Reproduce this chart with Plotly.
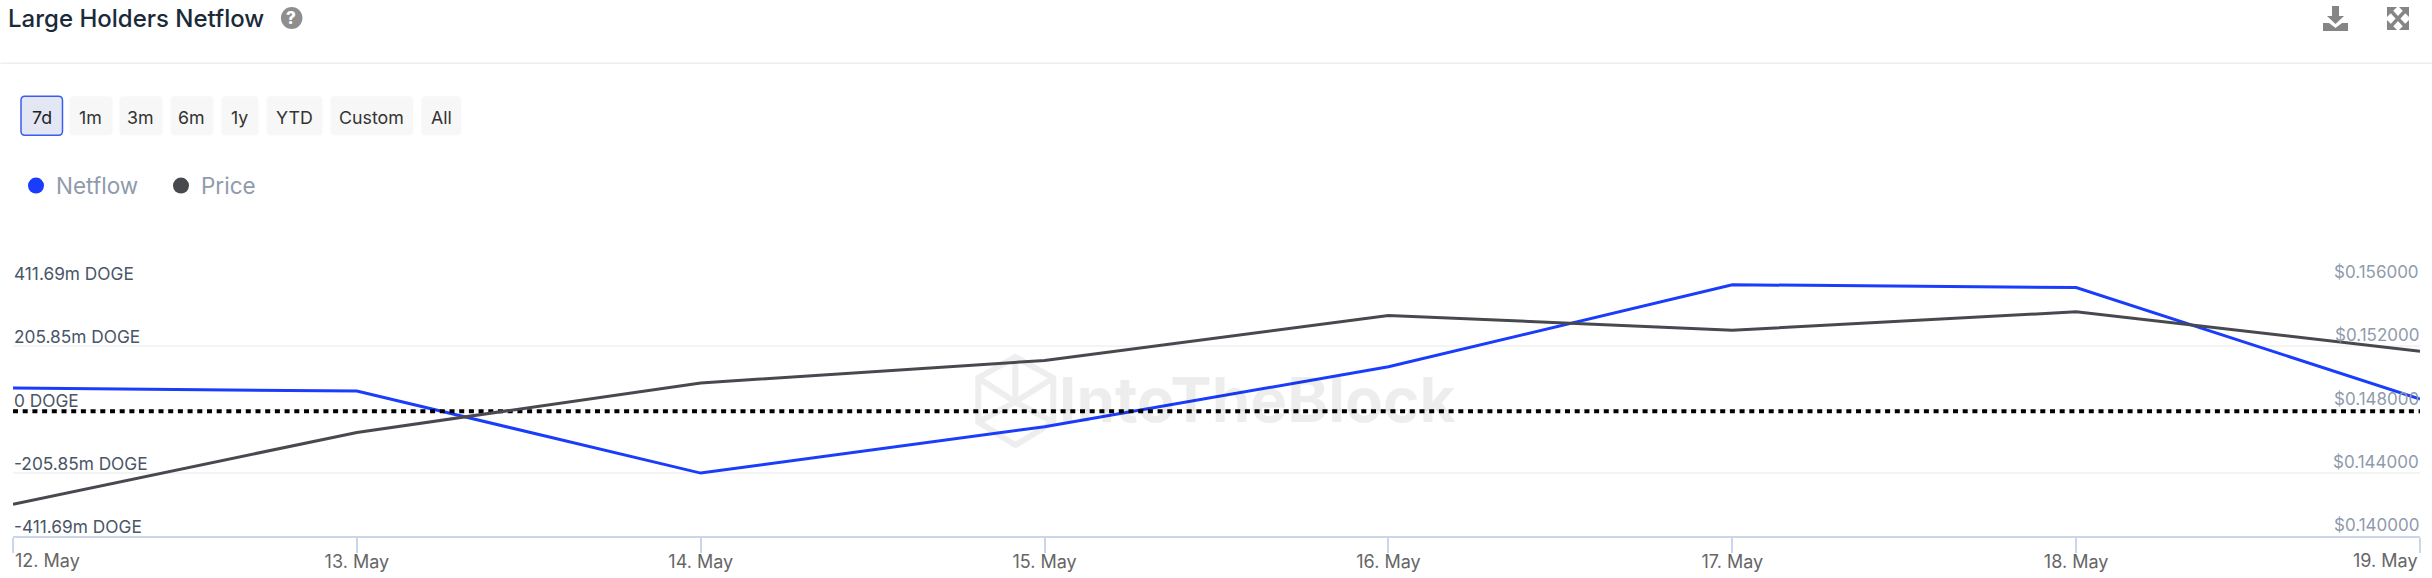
import plotly.graph_objects as go

W, H = 2432, 578
PL, PR, PT, PB = 12.5, 2420.0, 283.3, 535.7  # plot area in page pixels

# ---------- data ----------
dates = ["2024-05-12", "2024-05-13", "2024-05-14", "2024-05-15",
         "2024-05-16", "2024-05-17", "2024-05-18", "2024-05-19"]
date_labels = ["12. May", "13. May", "14. May", "15. May", "16. May", "17. May", "18. May", "19. May"]
netflow = [70, 60, -207, -56, 139, 406, 397, 34]  # million DOGE
price = [0.14201, 0.14655, 0.14968, 0.1511, 0.15395, 0.15301, 0.15418, 0.15169]
zero_marker = [-6, -6]
left_ticks = [-411.69, -205.85, 0, 205.85, 411.69]
left_labels = ["-411.69m DOGE", "-205.85m DOGE", "0 DOGE", "205.85m DOGE", "411.69m DOGE"]
right_ticks = [0.140, 0.144, 0.148, 0.152, 0.156]
right_labels = ["$0.140000", "$0.144000", "$0.148000", "$0.152000", "$0.156000"]
range_buttons = ["7d", "1m", "3m", "6m", "1y", "YTD", "Custom", "All"]
button_edges = [(20.5, 62), (69, 112), (119, 162), (170, 213), (221, 258), (266, 322), (330, 413), (421, 461)]

FONT = "Inter"
BLUE, DARK = "#1a3cfb", "#47494e"


def px(x):
    return (x - PL) / (PR - PL)


def py(y):
    return (PB - y) / (PB - PT)


def path(points, close=True):
    s = "M " + " L ".join(f"{px(x):.6f},{py(y):.6f}" for x, y in points)
    return s + (" Z" if close else "")


def rrect(x0, y0, x1, y1, r=4):
    P = lambda x, y: f"{px(x):.6f},{py(y):.6f}"
    return (f"M {P(x0+r,y0)} L {P(x1-r,y0)} Q {P(x1,y0)} {P(x1,y0+r)} L {P(x1,y1-r)} Q {P(x1,y1)} {P(x1-r,y1)} "
            f"L {P(x0+r,y1)} Q {P(x0,y1)} {P(x0,y1-r)} L {P(x0,y0+r)} Q {P(x0,y0)} {P(x0+r,y0)} Z")


def note(text, x, y, size, color, anchor="left", weight=400, family=FONT):
    return dict(text=text, x=px(x), y=py(y), xref="paper", yref="paper", showarrow=False,
                xanchor=anchor, yanchor="middle", align=anchor,
                font=dict(family=family, size=size, color=color, weight=weight))


fig = go.Figure()
fig.add_trace(go.Scatter(x=dates, y=netflow, mode="lines", name="Netflow", showlegend=False,
                         line=dict(color=BLUE, width=3), yaxis="y"))
fig.add_trace(go.Scatter(x=dates, y=price, mode="lines", name="Price", showlegend=False,
                         line=dict(color=DARK, width=3), yaxis="y2"))
fig.add_trace(go.Scatter(x=[dates[0], dates[-1]], y=zero_marker, mode="lines", showlegend=False,
                         hoverinfo="skip", line=dict(color="#000000", width=4, dash="5px,4.7px"), yaxis="y"))
fig.add_trace(go.Scatter(x=[None], y=[None], mode="markers", name="Netflow",
                         marker=dict(color=BLUE, size=17)))
fig.add_trace(go.Scatter(x=[None], y=[None], mode="markers", name="Price",
                         marker=dict(color=DARK, size=17)))

shapes = []
ann = []

# header
ann.append(note("Large Holders Netflow", 5, 19, 24, "#1b2a3a", weight=500))
shapes.append(dict(type="circle", xref="paper", yref="paper", x0=px(280.5), x1=px(302), y0=py(8), y1=py(30),
                   fillcolor="#8e8e8e", line_width=0))
ann.append(note("?", 291, 19, 17, "#ffffff", "center", 800))
shapes.append(dict(type="line", xref="paper", yref="paper", x0=px(0), x1=px(W), y0=py(64), y1=py(64),
                   line=dict(color="#eeeeee", width=1.5)))

# range buttons
for i, (label, (a, b)) in enumerate(zip(range_buttons, button_edges)):
    active = i == 0
    shapes.append(dict(type="path", path=rrect(a, 97, b, 136), xref="paper", yref="paper",
                       fillcolor="#e3e7f3" if active else "#f7f7f7",
                       line=dict(color="#3b5cf0" if active else "#f7f7f7", width=1.5 if active else 0)))
    ann.append(note(label, (a + b) / 2, 118, 17.8, "#222222" if active else "#333333", "center"))

# download icon
ICON = "#858585"
shapes.append(dict(type="path", xref="paper", yref="paper", fillcolor=ICON, line_width=0,
                   path=path([(2332, 7), (2339, 7), (2339, 17), (2344, 17), (2335.5, 25), (2327, 17), (2332, 17)])))
shapes.append(dict(type="path", xref="paper", yref="paper", fillcolor=ICON, line_width=0,
                   path=path([(2323, 24), (2329, 24), (2335.5, 29), (2342, 24), (2348, 24), (2348, 32), (2323, 32)])))
# fullscreen icon
for a, b in [((2391, 12), (2405, 27)), ((2405, 12), (2391, 27))]:
    shapes.append(dict(type="line", xref="paper", yref="paper", x0=px(a[0]), y0=py(a[1]), x1=px(b[0]), y1=py(b[1]),
                       line=dict(color=ICON, width=3.5)))
for cx, cy, sx, sy in [(2387, 8, 1, 1), (2409, 8, -1, 1), (2387, 31, 1, -1), (2409, 31, -1, -1)]:
    shapes.append(dict(type="path", xref="paper", yref="paper", fillcolor=ICON, line_width=0,
                       path=path([(cx, cy), (cx + 10 * sx, cy), (cx, cy + 10 * sy)])))

# watermark
WM = "#eeeeee"
for pts, closed in [
    ([(1015, 357), (1053, 378), (1053, 422), (1015, 445), (978, 422), (978, 378)], True),
    ([(978, 378), (1015, 402), (1053, 378)], False),
    ([(978, 422), (1015, 402), (1053, 422)], False),
    ([(1015, 357), (1015, 402)], False),
]:
    shapes.append(dict(type="path", xref="paper", yref="paper", layer="below", path=path(pts, closed),
                       line=dict(color=WM, width=6)))
ann.append(dict(note("IntoTheBlock", 1458, 400, 62, "rgba(0,0,0,0.07)", "right", 700)))

# y labels sit above their grid lines, inside the plot
for v, t in zip(left_ticks, left_labels):
    ann.append(dict(text=t, x=0, y=v, xref="paper", yref="y", yshift=9.5, showarrow=False, borderpad=0,
                    xanchor="left", yanchor="middle", font=dict(family=FONT, size=17.3, color="#4a5568")))
for v, t in zip(right_ticks, right_labels):
    ann.append(dict(text=t, x=1, y=v, xref="paper", yref="y2", yshift=11, showarrow=False, borderpad=0,
                    xanchor="right", yanchor="middle", font=dict(family=FONT, size=17, color="#8f9bab")))

# end labels of the x axis are justified into the plot
ann.append(dict(text=date_labels[0], x=dates[0], y=0, xref="x", yref="paper", yshift=-24.5, showarrow=False,
                xanchor="left", yanchor="middle", font=dict(family=FONT, size=18, color="#666666")))
ann.append(dict(text=date_labels[-1], x=dates[-1], y=0, xref="x", yref="paper", yshift=-24.5, showarrow=False,
                xanchor="right", yanchor="middle", font=dict(family=FONT, size=18, color="#666666")))

fig.update_layout(
    width=W, height=H, autosize=False,
    margin=dict(l=PL, r=W - PR, t=PT, b=H - PB, pad=0, autoexpand=False),
    paper_bgcolor="#ffffff", plot_bgcolor="#ffffff",
    font=dict(family=FONT),
    showlegend=True,
    legend=dict(orientation="h", x=px(15.5), y=py(186.5), xanchor="left", yanchor="middle",
                font=dict(family=FONT, size=22.5, color="#8f9bab"),
                entrywidth=100, entrywidthmode="pixels", itemwidth=30, bgcolor="rgba(0,0,0,0)",
                itemclick=False, itemdoubleclick=False),
    shapes=shapes, annotations=ann,
    xaxis=dict(type="date", range=[dates[0], dates[-1]], tickmode="array", tickvals=dates,
               ticktext=[""] + date_labels[1:-1] + [""], showgrid=False, zeroline=False,
               showline=True, linecolor="#ccd6eb", linewidth=1.5, ticks="outside", ticklen=15, tickwidth=1.5,
               tickcolor="#ccd6eb", ticklabelstandoff=-6, tickfont=dict(family=FONT, size=18, color="#666666")),
    yaxis=dict(range=[-411.69, 411.69], tickmode="array", tickvals=left_ticks, showticklabels=False,
               showgrid=True, gridcolor="#f4f4f4", gridwidth=1.5, zeroline=False, showline=False, ticks=""),
    yaxis2=dict(range=[0.140, 0.156], overlaying="y", side="right", tickmode="array", tickvals=right_ticks,
                showticklabels=False, showgrid=False, zeroline=False, showline=False, ticks=""),
)

fig.write_html("out.html", config={"displayModeBar": False},
               post_script="document.body.style.margin='0';document.body.style.overflow='hidden';")
